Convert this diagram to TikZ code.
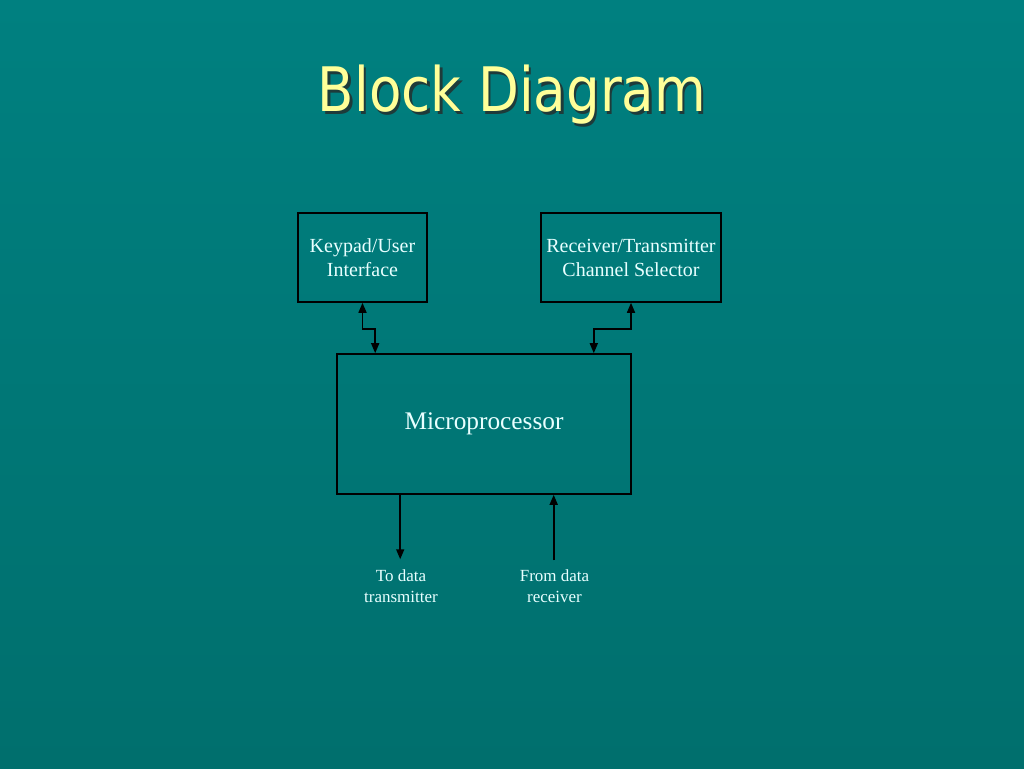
\documentclass[tikz,border=0pt]{standalone}
\usepackage{fontspec}
\setmainfont{Liberation Serif}
\newfontfamily\titlefont{DejaVu Sans}
\usetikzlibrary{arrows.meta,calc}
\definecolor{bgtop}{HTML}{008080}
\definecolor{bgbot}{HTML}{006F6D}
\definecolor{titlecol}{HTML}{FFFF99}
\definecolor{titleshadow}{HTML}{1E3B3A}
\definecolor{txtcol}{HTML}{E8FFFF}
\tikzset{
  blockbox/.style={draw=black, line width=1.2pt, inner sep=0pt, align=center, text=txtcol, font=\fontsize{15}{18}\selectfont},
  lbl/.style={inner sep=0pt, align=center, text=txtcol, font=\fontsize{12.75}{15.75}\selectfont},
  conn/.style={draw=black, line width=1.2pt},
  tip/.style={-{Triangle[length=7.5pt,width=6pt]}},
  tips/.style={{Triangle[length=7.5pt,width=6pt]}-{Triangle[length=7.5pt,width=6pt]}}
}
\begin{document}
\begin{tikzpicture}[x=0.75pt,y=-0.75pt]
\shade[top color=bgtop, bottom color=bgbot] (0,0) rectangle (1024,768);
\useasboundingbox (0,0) rectangle (1024,768);
% title with shadow in one node
\node[text=titlecol, font=\titlefont\fontsize{46}{50}\selectfont, xscale=0.865] (title) at (512,96)
  {\makebox[0pt][l]{\hspace{2.2pt}\raisebox{-2.2pt}{\textcolor{titleshadow}{Block Diagram}}}Block Diagram};
% blocks
\node[blockbox, minimum width=96.75pt, minimum height=66.75pt] (kp) at (362.5,257.5) {Keypad/User\\Interface};
\node[blockbox, minimum width=135pt, minimum height=66.75pt] (rc) at (631,257.5) {Receiver/Transmitter\\Channel Selector};
\node[blockbox, minimum width=220.5pt, minimum height=105pt, font=\fontsize{19}{22}\selectfont] (mp) at (484,424) {\raisebox{3pt}{Microprocessor}};
% labels
\node[lbl] (tx) at (401,586) {To data\\transmitter};
\node[lbl] (rx) at (554.5,586) {From data\\receiver};
% connectors
\coordinate (txtop) at ($(mp.south west)+(64,0)$);
\coordinate (rxtop) at ($(mp.south west)+(217.5,0)$);
\draw[conn,tips] (kp.south) -- ++(0,26) -| ($(mp.north west)+(39,0)$);
\draw[conn,tips] (rc.south) -- ++(0,26) -| ($(mp.north east)+(-38,0)$);
\draw[conn,tip] (txtop) -- ($(txtop |- tx.north)+(0,-10)$);
\draw[conn,tip] ($(rxtop |- rx.north)+(0,-9)$) -- (rxtop);
\end{tikzpicture}
\end{document}
